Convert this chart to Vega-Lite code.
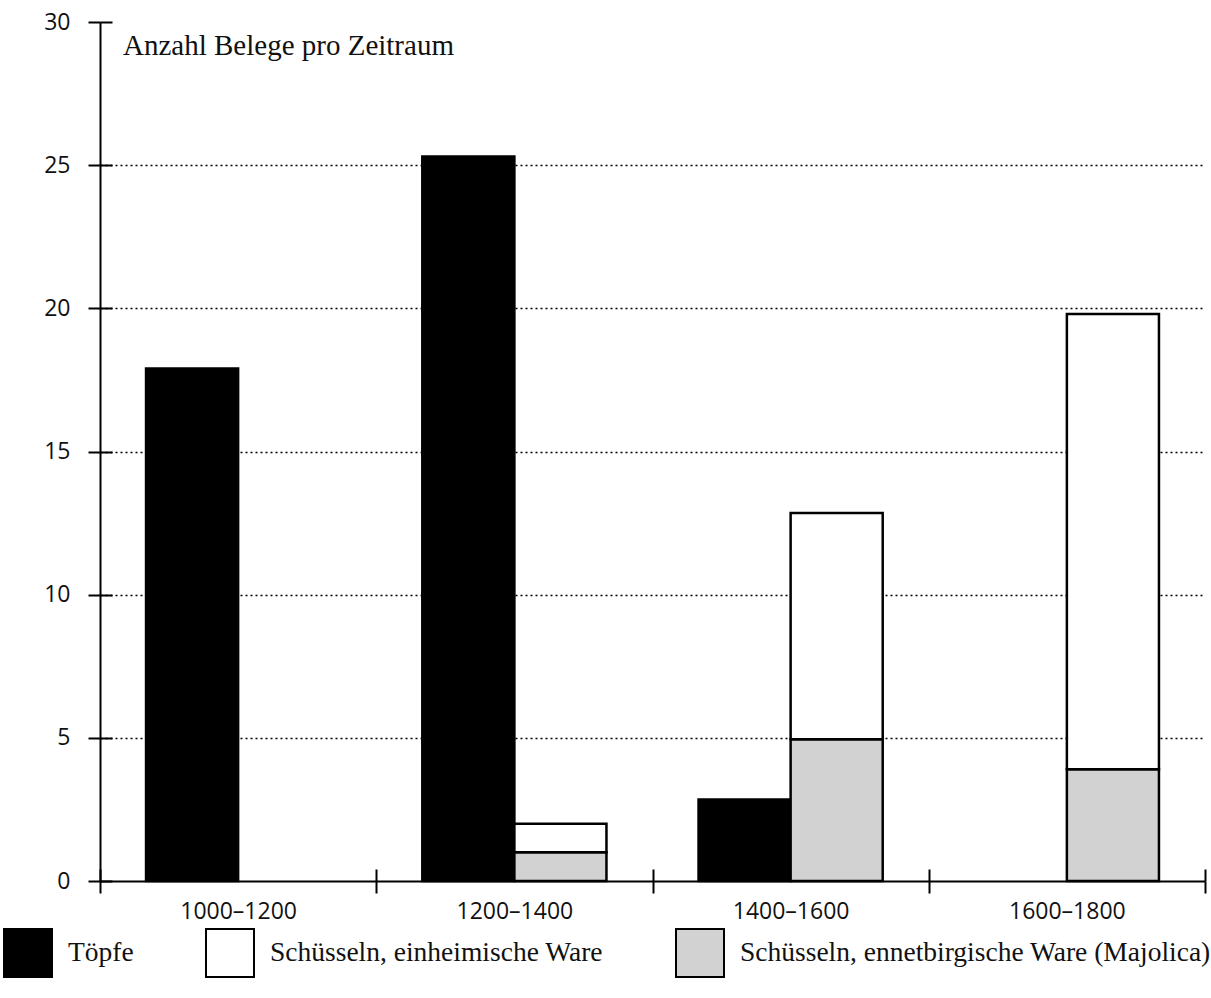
{
  "$schema": "https://vega.github.io/schema/vega-lite/v6.json",
  "width": 1105,
  "height": 859,
  "autosize": {"type": "none"},
  "padding": {"left": 100, "top": 22, "right": 6, "bottom": 117},
  "background": "white",
  "title": {
    "text": "Anzahl Belege pro Zeitraum",
    "anchor": "start",
    "frame": "group",
    "offset": -50,
    "dx": 23,
    "font": "Liberation Serif",
    "fontSize": 29,
    "fontWeight": "normal",
    "color": "#111111"
  },
  "config": {
    "view": {"stroke": null},
    "axis": {"labelColor": "#111111", "tickColor": "black", "domainColor": "black"}
  },
  "data": {
    "values": [
      {"period": "1000–1200", "group": "Töpfe", "type": "Töpfe", "value": 17.9},
      {"period": "1200–1400", "group": "Töpfe", "type": "Töpfe", "value": 25.3},
      {"period": "1400–1600", "group": "Töpfe", "type": "Töpfe", "value": 2.85},
      {"period": "1200–1400", "group": "Schüsseln", "type": "Schüsseln, ennetbirgische Ware (Majolica)", "value": 1},
      {"period": "1200–1400", "group": "Schüsseln", "type": "Schüsseln, einheimische Ware", "value": 1},
      {"period": "1400–1600", "group": "Schüsseln", "type": "Schüsseln, ennetbirgische Ware (Majolica)", "value": 4.95},
      {"period": "1400–1600", "group": "Schüsseln", "type": "Schüsseln, einheimische Ware", "value": 7.9},
      {"period": "1600–1800", "group": "Schüsseln", "type": "Schüsseln, ennetbirgische Ware (Majolica)", "value": 3.9},
      {"period": "1600–1800", "group": "Schüsseln", "type": "Schüsseln, einheimische Ware", "value": 15.9}
    ]
  },
  "transform": [
    {"stack": "value", "groupby": ["period", "group"], "sort": [{"field": "type", "order": "descending"}], "as": ["v0", "v1"]}
  ],
  "layer": [
    {
      "mark": {"type": "bar", "stroke": "black", "strokeWidth": 2.5},
      "encoding": {
        "x": {
          "field": "period",
          "type": "ordinal",
          "scale": {"domain": ["1000–1200", "1200–1400", "1400–1600", "1600–1800"], "paddingInner": 0, "paddingOuter": 0},
          "axis": {
            "orient": "bottom",
            "title": null,
            "tickBand": "extent",
            "tickSize": 12,
            "tickWidth": 2,
            "domainWidth": 2,
            "labelFont": "Open Sans",
            "labelFontSize": 23,
            "labelPadding": 7,
            "labelAngle": 0,
            "grid": false
          }
        },
        "xOffset": {
          "field": "group",
          "type": "nominal",
          "scale": {"domain": ["Töpfe", "Schüsseln"], "paddingInner": 0, "paddingOuter": 0.5}
        },
        "y": {
          "field": "v1",
          "type": "quantitative",
          "scale": {"domain": [0, 30], "nice": false},
          "axis": {
            "orient": "left",
            "title": null,
            "values": [0, 5, 10, 15, 20, 25, 30],
            "tickSize": 12,
            "tickWidth": 2,
            "domainWidth": 2,
            "labelFont": "Open Sans",
            "labelFontSize": 23,
            "labelPadding": 18,
            "grid": true,
            "gridColor": "black",
            "gridDash": [2, 3],
            "gridWidth": 1.5,
            "gridOpacity": {"condition": {"test": "datum.value === 0 || datum.value === 30", "value": 0}, "value": 1}
          }
        },
        "y2": {"field": "v0"},
        "fill": {
          "field": "type",
          "type": "nominal",
          "scale": {
            "domain": ["Töpfe", "Schüsseln, einheimische Ware", "Schüsseln, ennetbirgische Ware (Majolica)"],
            "range": ["black", "white", "#d2d2d2"]
          },
          "legend": {
            "title": null,
            "orient": "none",
            "legendX": -97,
            "legendY": 906,
            "direction": "horizontal",
            "symbolType": "square",
            "symbolSize": 2304,
            "symbolStrokeColor": "black",
            "symbolStrokeWidth": 2,
            "labelFont": "Liberation Serif",
            "labelFontSize": 27.5,
            "labelColor": "#111111",
            "labelOffset": 15,
            "labelLimit": 0,
            "columnPadding": 68
          }
        }
      }
    },
    {
      "mark": {"type": "bar", "opacity": 0},
      "encoding": {
        "x": {
          "field": "period",
          "type": "ordinal",
          "axis": {"orient": "bottom", "title": null, "tickBand": "extent", "tickSize": -12, "tickWidth": 2, "domain": false, "labels": false, "grid": false}
        },
        "y": {
          "field": "v1",
          "type": "quantitative",
          "axis": {"orient": "left", "title": null, "values": [0, 5, 10, 15, 20, 25, 30], "tickSize": -12, "tickWidth": 2, "domain": false, "labels": false, "grid": false}
        },
        "y2": {"field": "v0"}
      }
    }
  ],
  "resolve": {"axis": {"x": "independent", "y": "independent"}}
}
